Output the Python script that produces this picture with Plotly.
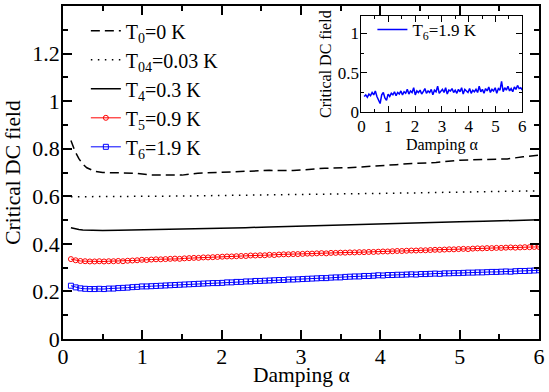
import numpy as np
import plotly.graph_objects as go

# ---- data ----
alpha_l = [0.1, 0.15, 0.2, 0.25, 0.3, 0.4, 0.5, 0.7, 0.9, 1.1, 1.3, 1.5, 1.7, 2.0, 2.3,
           2.6, 2.9, 3.1, 3.3, 3.6, 3.9, 4.2, 4.4, 4.7, 5.0, 5.3, 5.6, 5.8, 6.0]
T0 = [0.835, 0.790, 0.758, 0.735, 0.720, 0.705, 0.700, 0.699, 0.697, 0.690, 0.688, 0.689,
      0.697, 0.702, 0.705, 0.709, 0.708, 0.712, 0.718, 0.720, 0.728, 0.733, 0.738, 0.742,
      0.752, 0.755, 0.757, 0.766, 0.773]
T04 = [0.598, 0.598, 0.598, 0.598, 0.598, 0.599, 0.599, 0.599, 0.600, 0.600, 0.601, 0.601,
       0.602, 0.603, 0.604, 0.605, 0.606, 0.607, 0.608, 0.609, 0.611, 0.613, 0.614, 0.616,
       0.618, 0.619, 0.621, 0.622, 0.623]
T4 = [0.468, 0.463, 0.460, 0.458, 0.457, 0.456, 0.456, 0.457, 0.458, 0.459, 0.461, 0.462,
      0.464, 0.466, 0.468, 0.471, 0.474, 0.477, 0.479, 0.481, 0.484, 0.486, 0.488, 0.490,
      0.493, 0.495, 0.497, 0.499, 0.501]

alpha_m = list(np.round(np.linspace(0.1, 6.0, 100), 4))
T5 = [0.336, 0.331, 0.328, 0.327, 0.326, 0.326, 0.327, 0.326, 0.327, 0.327,
      0.328, 0.327, 0.329, 0.330, 0.331, 0.333, 0.332, 0.334, 0.335, 0.335,
      0.336, 0.337, 0.338, 0.337, 0.339, 0.340, 0.341, 0.341, 0.343, 0.343,
      0.344, 0.345, 0.346, 0.347, 0.347, 0.348, 0.349, 0.349, 0.351, 0.351,
      0.352, 0.352, 0.354, 0.353, 0.355, 0.356, 0.356, 0.357, 0.357, 0.358,
      0.359, 0.359, 0.360, 0.361, 0.360, 0.362, 0.362, 0.363, 0.363, 0.364,
      0.364, 0.365, 0.365, 0.366, 0.366, 0.367, 0.368, 0.368, 0.369, 0.370,
      0.370, 0.371, 0.372, 0.372, 0.373, 0.373, 0.374, 0.375, 0.375, 0.376,
      0.377, 0.377, 0.378, 0.379, 0.378, 0.380, 0.381, 0.381, 0.382, 0.382,
      0.383, 0.383, 0.384, 0.385, 0.384, 0.385, 0.386, 0.386, 0.387, 0.387]
T6 = [0.224, 0.217, 0.213, 0.211, 0.210, 0.210, 0.211, 0.210, 0.212, 0.212,
      0.214, 0.215, 0.216, 0.218, 0.219, 0.221, 0.221, 0.222, 0.223, 0.224,
      0.225, 0.226, 0.227, 0.228, 0.229, 0.230, 0.231, 0.232, 0.233, 0.234,
      0.235, 0.235, 0.236, 0.238, 0.238, 0.240, 0.240, 0.242, 0.242, 0.244,
      0.244, 0.245, 0.246, 0.247, 0.248, 0.248, 0.250, 0.250, 0.251, 0.252,
      0.253, 0.254, 0.255, 0.256, 0.256, 0.258, 0.259, 0.259, 0.261, 0.262,
      0.263, 0.263, 0.265, 0.265, 0.266, 0.268, 0.267, 0.269, 0.269, 0.270,
      0.270, 0.271, 0.272, 0.271, 0.273, 0.273, 0.274, 0.275, 0.274, 0.276,
      0.276, 0.277, 0.277, 0.278, 0.279, 0.279, 0.280, 0.280, 0.281, 0.282,
      0.282, 0.283, 0.284, 0.283, 0.285, 0.286, 0.286, 0.287, 0.288, 0.289]
T6_inset = [0.20, 0.22, 0.19, 0.23, 0.21, 0.25, 0.22, 0.27, 0.20, 0.16,
            0.11, 0.22, 0.25, 0.18, 0.15, 0.23, 0.20, 0.24, 0.22, 0.26,
            0.21, 0.25, 0.23, 0.27, 0.22, 0.26, 0.24, 0.29, 0.23, 0.27,
            0.25, 0.31, 0.22, 0.27, 0.25, 0.28, 0.23, 0.26, 0.30, 0.24,
            0.27, 0.25, 0.29, 0.22, 0.28, 0.26, 0.33, 0.24, 0.27, 0.29,
            0.25, 0.31, 0.23, 0.28, 0.27, 0.30, 0.25, 0.28, 0.24, 0.29,
            0.26, 0.31, 0.23, 0.29, 0.27, 0.25, 0.30, 0.24, 0.28, 0.26,
            0.29, 0.25, 0.33, 0.26, 0.29, 0.24, 0.30, 0.27, 0.32, 0.25,
            0.29, 0.27, 0.31, 0.24, 0.30, 0.28, 0.39, 0.26, 0.31, 0.28,
            0.33, 0.27, 0.30, 0.26, 0.32, 0.29, 0.34, 0.30, 0.31, 0.28]
x_ticks = [0, 1, 2, 3, 4, 5, 6]
y_ticks = [0, 0.2, 0.4, 0.6, 0.8, 1, 1.2]
y_ticktext = ["0", "0.2", "0.4", "0.6", "0.8", "1", "1.2"]
y2_ticks = [0, 0.5, 1]
y2_ticktext = ["0", "0.5", "1"]

FONT = "Liberation Serif"

fig = go.Figure()
fig.add_trace(go.Scatter(x=alpha_l, y=T0, mode="lines", name="T<sub>0</sub>=0 K",
                         line=dict(color="black", width=1.5, dash="9px,5px")))
fig.add_trace(go.Scatter(x=alpha_l, y=T04, mode="lines", name="T<sub>04</sub>=0.03 K",
                         line=dict(color="black", width=1.5, dash="1.5px,5.5px")))
fig.add_trace(go.Scatter(x=alpha_l, y=T4, mode="lines", name="T<sub>4</sub>=0.3 K",
                         line=dict(color="black", width=1.5)))
fig.add_trace(go.Scatter(x=alpha_m, y=T5, mode="lines+markers", name="T<sub>5</sub>=0.9 K",
                         line=dict(color="red", width=1),
                         marker=dict(symbol="circle-open", size=5, color="red",
                                     line=dict(width=1, color="red"))))
fig.add_trace(go.Scatter(x=alpha_m, y=T6, mode="lines+markers", name="T<sub>6</sub>=1.9 K",
                         line=dict(color="blue", width=1),
                         marker=dict(symbol="square-open", size=5, color="blue",
                                     line=dict(width=1, color="blue"))))
fig.add_trace(go.Scatter(x=alpha_m, y=T6_inset, mode="lines", name="T<sub>6</sub>=1.9 K",
                         line=dict(color="blue", width=1.5), xaxis="x2", yaxis="y2",
                         legend="legend2"))

axis_common = dict(showline=True, linecolor="black", mirror="allticks",
                   ticks="inside", tickcolor="black", showgrid=False, zeroline=False,
                   color="black")

fig.update_layout(
    width=549, height=392,
    margin=dict(l=63, r=6, t=4, b=53),
    paper_bgcolor="white", plot_bgcolor="white",
    font=dict(family=FONT, color="black"),
    xaxis=dict(**axis_common, linewidth=1.5, range=[0, 6], tickvals=x_ticks,
               ticklen=9, tickwidth=1.5, tickfont=dict(size=22), ticklabelstandoff=-3,
               minor=dict(dtick=0.5, ticklen=5, ticks="inside", tickcolor="black", tickwidth=1.5),
               domain=[0, 1]),
    yaxis=dict(**axis_common, linewidth=1.5, range=[0, 1.4], tickvals=y_ticks,
               ticktext=y_ticktext, ticklabelstandoff=-3,
               ticklen=9, tickwidth=1.5, tickfont=dict(size=22),
               minor=dict(dtick=0.1, ticklen=5, ticks="inside", tickcolor="black", tickwidth=1.5),
               title=dict(text="Critical DC field", font=dict(size=21.5), standoff=6),
               domain=[0, 1]),
    xaxis2=dict(**axis_common, linewidth=1, range=[0, 6], tickvals=x_ticks, ticklen=6,
                tickwidth=1, tickfont=dict(size=17), anchor="y2", ticklabelstandoff=-2,
                minor=dict(dtick=0.5, ticklen=3, ticks="inside", tickcolor="black", tickwidth=1),
                title=dict(text="Damping α", font=dict(size=16), standoff=0),
                domain=[0.627, 0.965]),
    yaxis2=dict(**axis_common, linewidth=1, range=[0, 1.22], tickvals=y2_ticks,
                ticktext=y2_ticktext, ticklen=6, tickwidth=1, ticklabelstandoff=-2,
                tickfont=dict(size=17), anchor="x2",
                minor=dict(dtick=0.25, ticklen=3, ticks="inside", tickcolor="black", tickwidth=1),
                title=dict(text="Critical DC field", font=dict(size=16), standoff=2),
                domain=[0.681, 0.970]),
    legend=dict(x=0.048, y=0.984, xanchor="left", yanchor="top", bgcolor="rgba(0,0,0,0)",
                font=dict(size=20, family=FONT), tracegroupgap=0),
    legend2=dict(x=0.65, y=0.982, xanchor="left", yanchor="top", bgcolor="rgba(0,0,0,0)",
                 font=dict(size=17, family=FONT)),
    showlegend=True,
    annotations=[dict(text="Damping α", xref="paper", yref="paper", x=0.5, y=-0.108,
                      xanchor="center", yanchor="middle", showarrow=False,
                      font=dict(size=21.5, family=FONT, color="black"))],
)

fig.write_html("out.html")
